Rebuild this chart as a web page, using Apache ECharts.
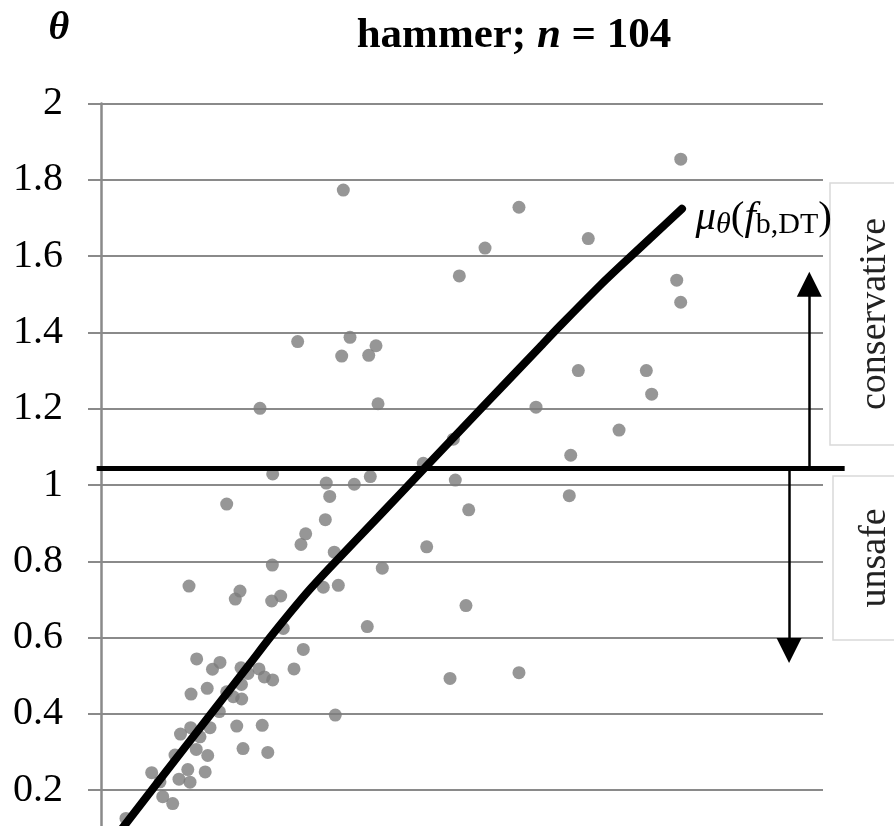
<!DOCTYPE html>
<html>
<head>
<meta charset="utf-8">
<script src="https://cdn.jsdelivr.net/npm/echarts@6/dist/echarts.min.js"></script>
<style>
  html, body { margin: 0; padding: 0; background: #ffffff; }
  #chart { width: 894px; height: 826px; }
</style>
</head>
<body>
<div id="chart"></div>
<script>
// Normalised bending parameter of each hammer test (x) and its theta ratio (y)
const specimenX = [
  80.3, 33.56, 57.89, 67.49, 53.19, 49.63, 79.74, 80.29, 27.24, 34.49,
  33.34, 38.09, 37.08, 75.53, 66.11, 76.27, 38.37, 60.25, 22.02, 71.75,
  48.80, 65.06, 44.64, 23.78, 37.30, 49.07, 31.20, 35.08, 64.86, 31.68,
  17.41, 50.93, 31.07, 28.35, 27.70, 45.11, 32.31, 23.73, 38.96, 12.19,
  30.79, 32.87, 19.25, 24.89, 18.60, 23.64, 50.55, 36.88, 25.25, 28.02,
  13.25, 16.48, 15.44, 19.39, 20.36, 21.88, 22.62, 23.78, 26.73, 48.34,
  57.89, 12.47, 14.71, 19.46, 17.41, 18.32, 19.49, 16.39, 32.45, 18.80,
  22.33, 12.42, 15.10, 11.01, 13.71, 13.19, 19.67, 23.10, 10.25, 14.78,
  7.02, 12.02, 14.43, 8.17, 10.80, 12.33, 8.55, 9.93, 3.46
];
const specimenTheta = [
  1.854, 1.773, 1.728, 1.646, 1.621, 1.548, 1.537, 1.479, 1.376, 1.387,
  1.338, 1.365, 1.340, 1.300, 1.300, 1.238, 1.213, 1.204, 1.201, 1.144,
  1.120, 1.078, 1.057, 1.029, 1.022, 1.013, 1.005, 1.002, 0.972, 0.970,
  0.950, 0.935, 0.909, 0.872, 0.844, 0.838, 0.824, 0.790, 0.782, 0.735,
  0.732, 0.737, 0.722, 0.709, 0.701, 0.696, 0.684, 0.629, 0.624, 0.569,
  0.544, 0.535, 0.517, 0.521, 0.506, 0.518, 0.497, 0.489, 0.518, 0.493,
  0.508, 0.452, 0.467, 0.477, 0.458, 0.445, 0.439, 0.406, 0.397, 0.368,
  0.370, 0.364, 0.364, 0.347, 0.340, 0.307, 0.309, 0.299, 0.292, 0.291,
  0.246, 0.254, 0.248, 0.222, 0.229, 0.221, 0.183, 0.165, 0.126
];

// Mean curve mu_theta(f_b,DT)
const fitX = [1.94, 3.19, 8.86, 15.51, 20.64, 23.41, 26.18, 28.95, 31.72, 38.64,
              44.60, 52.49, 60.80, 63.57, 69.11, 71.88, 76.04, 80.47];
const fitTheta = [0.076, 0.106, 0.245, 0.407, 0.532, 0.600, 0.665, 0.727, 0.784, 0.921,
                  1.040, 1.197, 1.362, 1.417, 1.523, 1.573, 1.646, 1.724];

// Safety threshold and the two direction arrows
const thresholdTheta = 1.045;
const thresholdXRange = [-0.6, 103.0];
const conservativeArrow = { x: 98.1, to: 1.526 };
const unsafeArrow = { x: 95.3, to: 0.566 };

// Axis range
const thetaMin = 0, thetaMax = 2, thetaStep = 0.2;
const xMin = 0, xMax = 100;

const SERIF = '"Liberation Serif", "Times New Roman", serif';
const GRID_GREY = '#8a8a8a';

const chart = echarts.init(document.getElementById('chart'), null, { renderer: 'canvas' });

const specimens = specimenX.map((x, i) => [x, specimenTheta[i]]);
const fitCurve = fitX.map((x, i) => [x, fitTheta[i]]);
const fitEnd = fitCurve[fitCurve.length - 1];

chart.setOption({
  animation: false,
  backgroundColor: '#ffffff',
  grid: {
    left: 101, top: 103.5, width: 722, height: 763,
    containLabel: false, outerBoundsMode: 'none'
  },
  xAxis: {
    type: 'value', min: xMin, max: xMax, show: false
  },
  yAxis: {
    type: 'value', min: thetaMin, max: thetaMax, interval: thetaStep,
    axisLine: { show: true, lineStyle: { color: GRID_GREY, width: 2.5 } },
    axisTick: { show: true, inside: false, length: 13, lineStyle: { color: GRID_GREY, width: 2 } },
    axisLabel: { color: '#000000', fontFamily: SERIF, fontSize: 40, margin: 38 },
    splitLine: { show: true, lineStyle: { color: GRID_GREY, width: 2 } }
  },
  series: [
    {
      name: 'tests', type: 'scatter', data: specimens,
      symbol: 'circle', symbolSize: 13,
      itemStyle: { color: '#7c7c7c' }, z: 2
    },
    {
      name: 'threshold', type: 'lines', coordinateSystem: 'cartesian2d', clip: false, z: 4,
      symbol: 'none',
      lineStyle: { color: '#000000', width: 5, opacity: 1, curveness: 0 },
      data: [{ coords: [[thresholdXRange[0], thresholdTheta], [thresholdXRange[1], thresholdTheta]] }]
    },
    {
      name: 'mean', type: 'line', data: fitCurve, smooth: 0.25, clip: false,
      symbol: 'none', lineStyle: { color: '#000000', width: 8, cap: 'round', join: 'round' }, z: 5
    },
    {
      name: 'mean label', type: 'scatter', data: [fitEnd], symbolSize: 1,
      itemStyle: { color: 'rgba(0,0,0,0)' }, z: 6,
      label: {
        show: true, position: 'right', distance: 13, offset: [0, 9],
        color: '#000', opacity: 1,
        formatter: '{i|μ}{si|θ}{r|(}{i|f}{s|b,DT}{r|)}',
        rich: {
          i: { fontFamily: SERIF, fontStyle: 'italic', fontSize: 41, color: '#000' },
          r: { fontFamily: SERIF, fontSize: 41, color: '#000' },
          si: { fontFamily: SERIF, fontStyle: 'italic', fontSize: 30, color: '#000', padding: [15, 0, 0, 0] },
          s: { fontFamily: SERIF, fontSize: 30, color: '#000', padding: [15, 0, 0, 0] }
        }
      }
    },
    {
      name: 'arrows', type: 'lines', coordinateSystem: 'cartesian2d', z: 4,
      symbol: ['none', 'triangle'], symbolSize: 25,
      lineStyle: { color: '#000000', width: 2.5, opacity: 1, curveness: 0 },
      itemStyle: { color: '#000000' },
      data: [
        { coords: [[conservativeArrow.x, thresholdTheta], [conservativeArrow.x, conservativeArrow.to]] },
        { coords: [[unsafeArrow.x, thresholdTheta], [unsafeArrow.x, unsafeArrow.to]] }
      ]
    }
  ],
  graphic: [
    {
      type: 'text', x: 59, y: 29, z: 10,
      style: {
        text: 'θ', font: 'italic bold 40px ' + SERIF, fill: '#000',
        align: 'center', verticalAlign: 'middle'
      }
    },
    {
      type: 'text', x: 514, y: 36, z: 10,
      style: {
        text: '{b|hammer; }{bi|n}{b| = 104}',
        align: 'center', verticalAlign: 'middle',
        rich: {
          b: { fontFamily: SERIF, fontWeight: 'bold', fontSize: 43, fill: '#000' },
          bi: { fontFamily: SERIF, fontWeight: 'bold', fontStyle: 'italic', fontSize: 43, fill: '#000' }
        }
      }
    },
    {
      type: 'rect', z: 3,
      shape: { x: 830, y: 183, width: 90, height: 262 },
      style: { fill: '#ffffff', stroke: '#d9d9d9', lineWidth: 1.5 }
    },
    {
      type: 'text', x: 875, y: 314, rotation: Math.PI / 2, z: 11,
      style: {
        text: 'conservative', font: '38px ' + SERIF, fill: '#222',
        align: 'center', verticalAlign: 'middle'
      }
    },
    {
      type: 'rect', z: 3,
      shape: { x: 833, y: 476, width: 90, height: 164 },
      style: { fill: '#ffffff', stroke: '#d9d9d9', lineWidth: 1.5 }
    },
    {
      type: 'text', x: 875, y: 558, rotation: Math.PI / 2, z: 11,
      style: {
        text: 'unsafe', font: '38px ' + SERIF, fill: '#222',
        align: 'center', verticalAlign: 'middle'
      }
    }
  ]
});
</script>
</body>
</html>
